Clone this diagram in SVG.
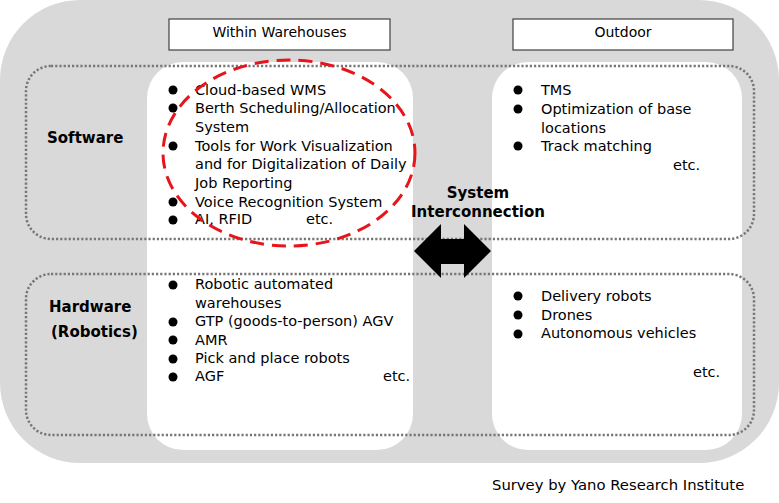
<svg xmlns="http://www.w3.org/2000/svg" width="779" height="503" viewBox="0 0 779 503">
<style>
.t{font-family:"DejaVu Sans",Verdana,sans-serif;font-size:14.5px;fill:#000}
.b{font-family:"DejaVu Sans",Verdana,sans-serif;font-size:15px;font-weight:bold;fill:#000}
.h{font-family:"DejaVu Sans",Verdana,sans-serif;font-size:14px;fill:#000;text-anchor:middle}
.dot{fill:none;stroke:#777;stroke-width:2.5;stroke-dasharray:2.2 2}
.col{fill:#fff}
.hdr{fill:#fff;stroke:#404040;stroke-width:1.2}
</style>
<rect x="0" y="0" width="779" height="463" rx="80" ry="80" fill="#d9d9d9"/>
<g id="col-warehouse"><rect class="col" x="147" y="62" width="266" height="388" rx="36" ry="36"/></g>
<g id="col-outdoor"><rect class="col" x="492" y="62" width="250" height="388" rx="36" ry="36"/></g>
<g id="hdr-within"><rect class="hdr" x="169" y="19" width="221" height="31"/><text class="h" x="279.5" y="37">Within Warehouses</text></g>
<g id="hdr-outdoor"><rect class="hdr" x="513" y="19" width="220" height="31"/><text class="h" x="623" y="37">Outdoor</text></g>
<g id="row-software"><rect class="dot" x="26" y="66" width="728" height="173" rx="25" ry="25"/><text class="b" x="47" y="143">Software</text></g>
<g id="row-hardware"><rect class="dot" x="26" y="274" width="728" height="161" rx="25" ry="25"/><text class="b" x="49" y="312">Hardware</text><text class="b" x="51" y="337">(Robotics)</text></g>
<g id="sw-warehouse">
<circle cx="173" cy="90" r="4.5"/><text class="t" x="195" y="95">Cloud-based WMS</text>
<circle cx="173" cy="108" r="4.5"/><text class="t" x="195" y="113">Berth Scheduling/Allocation</text>
<text class="t" x="195" y="132">System</text>
<circle cx="173" cy="146" r="4.5"/><text class="t" x="195" y="151">Tools for Work Visualization</text>
<text class="t" x="195" y="169">and for Digitalization of Daily</text>
<text class="t" x="195" y="188">Job Reporting</text>
<circle cx="173" cy="202" r="4.5"/><text class="t" x="195" y="207">Voice Recognition System</text>
<circle cx="173" cy="220" r="4.5"/><text class="t" x="195" y="224">AI, RFID</text><text class="t" x="306" y="224">etc.</text>
</g>
<g id="sw-outdoor">
<circle cx="518" cy="90" r="4.5"/><text class="t" x="541" y="95">TMS</text>
<circle cx="518" cy="109" r="4.5"/><text class="t" x="541" y="114">Optimization of base</text>
<text class="t" x="541" y="133">locations</text>
<circle cx="518" cy="146" r="4.5"/><text class="t" x="541" y="151">Track matching</text>
<text class="t" x="673" y="170">etc.</text>
</g>
<g id="hw-warehouse">
<circle cx="173" cy="285" r="4.5"/><text class="t" x="195" y="289">Robotic automated</text>
<text class="t" x="195" y="308">warehouses</text>
<circle cx="173" cy="322" r="4.5"/><text class="t" x="195" y="326">GTP (goods-to-person) AGV</text>
<circle cx="173" cy="340" r="4.5"/><text class="t" x="195" y="345">AMR</text>
<circle cx="173" cy="359" r="4.5"/><text class="t" x="195" y="363">Pick and place robots</text>
<circle cx="173" cy="377" r="4.5"/><text class="t" x="195" y="381">AGF</text><text class="t" x="383" y="381">etc.</text>
</g>
<g id="hw-outdoor">
<circle cx="518" cy="296" r="4.5"/><text class="t" x="541" y="301">Delivery robots</text>
<circle cx="518" cy="315" r="4.5"/><text class="t" x="541" y="320">Drones</text>
<circle cx="518" cy="334" r="4.5"/><text class="t" x="541" y="338">Autonomous vehicles</text>
<text class="t" x="693" y="377">etc.</text>
</g>
<g id="highlight"><ellipse cx="289" cy="153" rx="126" ry="93" fill="none" stroke="#e8141b" stroke-width="3" stroke-dasharray="14 8"/></g>
<g id="connectors">
<polygon points="414,251 441,224 441,239 464,239 464,224 491,251 464,278 464,264 441,264 441,278" fill="#000"/>
<text class="b" x="478" y="198" text-anchor="middle">System</text>
<text class="b" x="478" y="217" text-anchor="middle">Interconnection</text>
</g>
<text class="t" x="492" y="490" style="font-size:14.8px">Survey by Yano Research Institute</text>
</svg>
